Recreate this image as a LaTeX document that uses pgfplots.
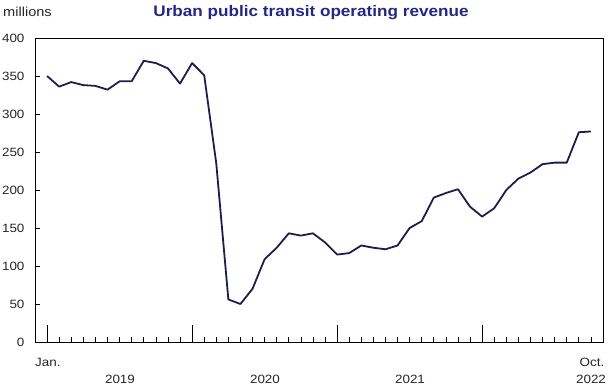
\documentclass[border=0pt]{standalone}
\usepackage{pgfplots}
\pgfplotsset{compat=1.18}
\usepackage{fontspec}
\setmainfont{Liberation Sans}[FakeStretch=1.12]
\definecolor{linecol}{RGB}{30,30,78}
\definecolor{titlecol}{RGB}{38,38,130}
\pgfplotstableread{
x y
0 350
1 336
2 342
3 338
4 337
5 332
6 343
7 343
8 370
9 367
10 360
11 340
12 367
13 351
14 235
15 56
16 50
17 70
18 109
19 124
20 143
21 140
22 143
23 131
24 115
25 117
26 127
27 124
28 122
29 127
30 150
31 159
32 190
33 196
34 201
35 178
36 165
37 176
38 200
39 215
40 223
41 234
42 236
43 236
44 276
45 277
}\revenue
\begin{document}
\begin{tikzpicture}[x=1pt,y=1pt]
\path[use as bounding box] (-35,-48) rectangle (575,342);
\begin{axis}[
  at={(0,0)}, anchor=south west,
  width=568pt, height=304pt, scale only axis,
  xmin=-1, xmax=46, ymin=0, ymax=400,
  axis line style={black, line width=0.8pt},
  tick style={black, line width=0.7pt},
  tick align=inside,
  ytick=\empty,
  extra y ticks={0,50,...,400},
  extra y tick style={major tick length=5pt},
  ytick pos=left,
  xtick pos=bottom,
  major tick length=5pt,
  yticklabel style={font=\fontsize{12}{14}\selectfont, text=black!85, xshift=-7pt},
  /pgf/number format/assume math mode=true,
  xtick={0,...,45},
  xticklabels={},
  extra x ticks={0,12,24,36},
  extra x tick labels={},
  extra x tick style={major tick length=17pt},
  clip=false,
]
\addplot[linecol, line width=1.8pt, line join=round, mark=none] table[x=x,y=y] {\revenue};
\end{axis}
\begin{scope}[font=\fontsize{12}{14}\selectfont, text=black!85]
\node[anchor=base] at (12.9,-25) {Jan.};
\node[anchor=base] at (557,-25) {Oct.};
\node[anchor=base] at (85,-42) {2019};
\node[anchor=base] at (230,-42) {2020};
\node[anchor=base] at (375,-42) {2021};
\node[anchor=base] at (556,-42) {2022};
\end{scope}
\node[anchor=base west, inner sep=0pt, font=\fontsize{13}{15}\selectfont, text=black!85] at (-32,325) {millions};
\node[anchor=base, inner sep=0pt, font=\fontsize{15.3}{18}\selectfont\bfseries, text=titlecol] at (276,325) {Urban public transit operating revenue};
\end{tikzpicture}
\end{document}
